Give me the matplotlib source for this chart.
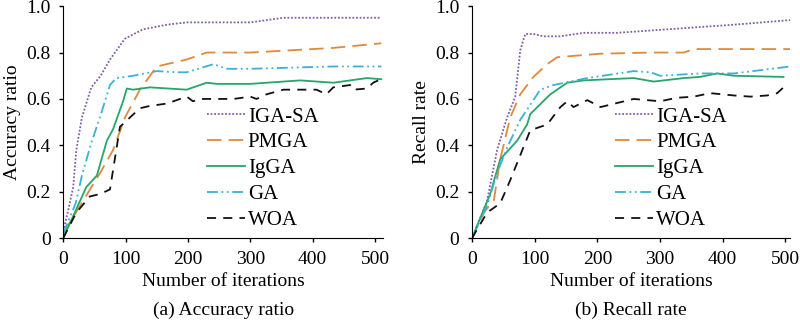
import matplotlib
matplotlib.use("Agg")
import matplotlib.pyplot as plt

plt.rcParams['font.family'] = ['Liberation Serif', 'DejaVu Serif']
plt.rcParams['font.size'] = 14

# (a) accuracy ratio
acc_igasa_x = [0, 8, 16, 21, 30, 45, 60, 75, 99, 128, 166, 198, 300, 353, 433, 510]
acc_igasa_y = [0.03, 0.12, 0.22, 0.38, 0.52, 0.65, 0.70, 0.77, 0.86, 0.90, 0.92, 0.93, 0.93, 0.95, 0.95, 0.95]
acc_pmga_x = [0, 43, 59, 80, 99, 123, 150, 182, 198, 230, 300, 433, 510]
acc_pmga_y = [0.02, 0.21, 0.28, 0.38, 0.52, 0.64, 0.74, 0.76, 0.77, 0.80, 0.80, 0.82, 0.84]
acc_igga_x = [0, 37, 54, 70, 80, 96, 102, 112, 139, 198, 230, 246, 300, 380, 433, 487, 510]
acc_igga_y = [0.0, 0.22, 0.27, 0.42, 0.47, 0.59, 0.645, 0.64, 0.65, 0.64, 0.67, 0.665, 0.665, 0.68, 0.67, 0.69, 0.685]
acc_ga_x = [0, 20, 30, 45, 60, 75, 85, 112, 150, 182, 198, 241, 262, 300, 433, 510]
acc_ga_y = [0.02, 0.15, 0.27, 0.41, 0.53, 0.66, 0.69, 0.70, 0.72, 0.715, 0.715, 0.75, 0.73, 0.73, 0.74, 0.74]
acc_woa_x = [0, 21, 43, 59, 75, 91, 99, 123, 139, 166, 198, 208, 219, 273, 300, 310, 326, 353, 406, 422, 433, 460, 465, 487, 497, 505]
acc_woa_y = [0.0, 0.11, 0.18, 0.19, 0.21, 0.48, 0.50, 0.56, 0.57, 0.58, 0.61, 0.59, 0.60, 0.60, 0.61, 0.60, 0.62, 0.64, 0.64, 0.62, 0.65, 0.66, 0.64, 0.645, 0.67, 0.68]

# (b) recall rate
rec_igasa_x = [0, 24, 40, 56, 69, 77, 85, 98, 114, 141, 178, 231, 285, 364, 418, 508]
rec_igasa_y = [0.0, 0.16, 0.38, 0.52, 0.61, 0.81, 0.88, 0.88, 0.87, 0.87, 0.885, 0.885, 0.895, 0.91, 0.92, 0.94]
rec_pmga_x = [0, 19, 35, 45, 61, 77, 98, 120, 136, 205, 285, 338, 354, 508]
rec_pmga_y = [0.0, 0.11, 0.165, 0.34, 0.52, 0.62, 0.695, 0.75, 0.78, 0.795, 0.80, 0.80, 0.815, 0.815]
rec_igga_x = [0, 29, 45, 72, 88, 93, 125, 152, 178, 258, 290, 338, 364, 391, 418, 497]
rec_igga_y = [0.0, 0.19, 0.34, 0.42, 0.49, 0.535, 0.62, 0.67, 0.68, 0.69, 0.675, 0.69, 0.695, 0.71, 0.70, 0.695]
rec_ga_x = [0, 24, 40, 56, 77, 109, 130, 184, 258, 285, 300, 364, 418, 508]
rec_ga_y = [0.0, 0.14, 0.28, 0.39, 0.51, 0.64, 0.66, 0.69, 0.72, 0.715, 0.70, 0.71, 0.71, 0.74]
rec_woa_x = [0, 24, 45, 61, 93, 120, 141, 152, 162, 184, 205, 258, 300, 327, 354, 380, 418, 444, 471, 487, 497]
rec_woa_y = [0.0, 0.11, 0.15, 0.25, 0.465, 0.49, 0.565, 0.59, 0.565, 0.595, 0.565, 0.60, 0.59, 0.605, 0.61, 0.625, 0.615, 0.61, 0.615, 0.625, 0.65]

names = ["IGA-SA", "PMGA", "IgGA", "GA", "WOA"]
colors = ["#7d5fa8", "#e0893a", "#27a56a", "#3ab2d2", "#111111"]
styles = [(0, (1, 1)), (0, (8, 4)), "-", (0, (6, 2, 1, 2, 1, 2)), (0, (5, 4))]

panels = [
    ([0.079, 0.265, 0.40, 0.716], 513, "Accuracy ratio", "(a) Accuracy ratio",
     [(acc_igasa_x, acc_igasa_y), (acc_pmga_x, acc_pmga_y), (acc_igga_x, acc_igga_y),
      (acc_ga_x, acc_ga_y), (acc_woa_x, acc_woa_y)]),
    ([0.59, 0.265, 0.398, 0.716], 508, "Recall rate", "(b) Recall rate",
     [(rec_igasa_x, rec_igasa_y), (rec_pmga_x, rec_pmga_y), (rec_igga_x, rec_igga_y),
      (rec_ga_x, rec_ga_y), (rec_woa_x, rec_woa_y)]),
]

fig = plt.figure(figsize=(8, 3.24), dpi=100)
for rect, xmax, ylab, cap, series in panels:
    ax = fig.add_axes(rect)
    for (x, y), n, c, s in zip(series, names, colors, styles):
        ax.plot(x, y, color=c, linestyle=s, linewidth=1.3, label=n)
    ax.set_xlim(0, xmax)
    ax.set_ylim(0, 1.0)
    ax.set_xticks([0, 100, 200, 300, 400, 500])
    ax.set_yticks([0, 0.2, 0.4, 0.6, 0.8, 1.0])
    ax.set_yticklabels(["0", "0.2", "0.4", "0.6", "0.8", "1.0"])
    ax.spines["top"].set_visible(False)
    ax.spines["right"].set_visible(False)
    ax.tick_params(direction="out", length=3, width=1, pad=6)
    ax.set_xlabel("Number of iterations", labelpad=4)
    ax.set_ylabel(ylab, labelpad=4)
    ax.text(0.5, -0.31, cap, transform=ax.transAxes, ha="center", va="center")
    ax.legend(loc="upper left", bbox_to_anchor=(0.45, 0.565), frameon=False,
              fontsize=15, handlelength=1.8, handletextpad=0.15, labelspacing=0.3,
              borderaxespad=0, borderpad=0)

fig.savefig("out.png", dpi=100)
